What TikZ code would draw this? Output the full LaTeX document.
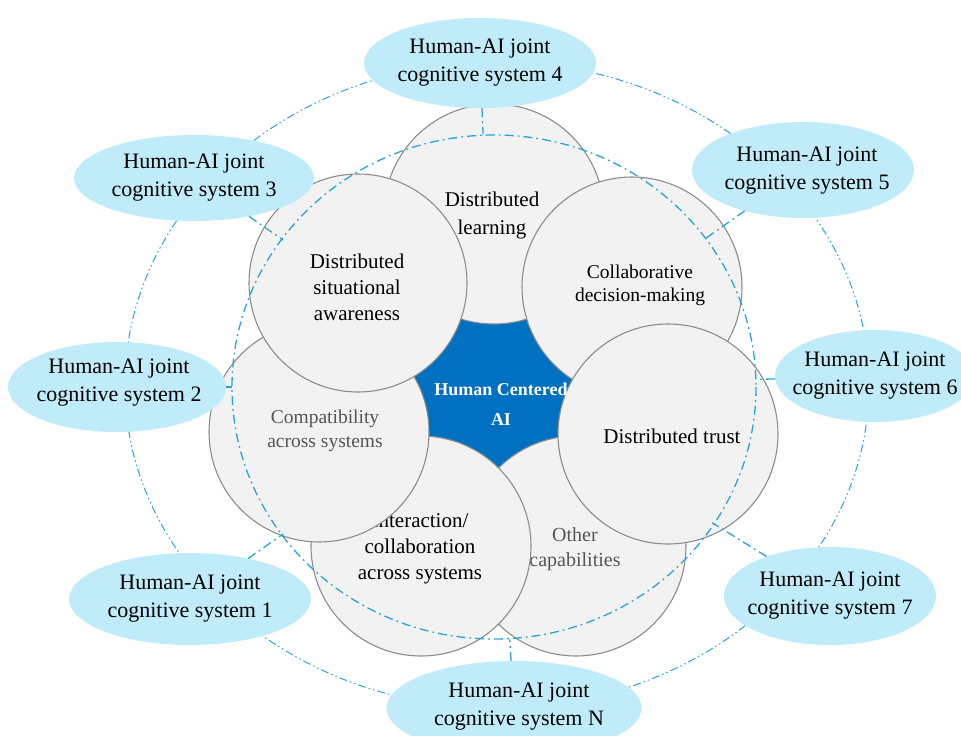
\documentclass[tikz,border=0pt]{standalone}
\usepackage{fontspec}
\setmainfont{Liberation Serif}
\usetikzlibrary{shapes.geometric,calc}
\definecolor{petalfill}{RGB}{242,242,242}
\definecolor{petaldraw}{RGB}{140,140,140}
\definecolor{hcblue}{RGB}{0,112,192}
\definecolor{sysfill}{RGB}{192,235,249}
\definecolor{dashcol}{RGB}{40,165,215}
\definecolor{graytext}{RGB}{85,85,85}
\begin{document}
\begin{tikzpicture}[x=1pt,y=-1pt,
  petal/.style={circle,fill=petalfill,draw=petaldraw,line width=1.1pt,inner sep=0pt,minimum size=#1},
  ptext/.style={align=center,inner sep=0pt,text=black},
  sys/.style={ellipse,fill=sysfill,draw=none,inner sep=0pt},
  systext/.style={align=center,inner sep=0pt,font=\fontsize{22pt}{28pt}\selectfont},
  innerline/.style={draw=dashcol,line width=1.3pt,dash pattern=on 9pt off 4pt on 1.8pt off 4pt},
  outerline/.style={draw=dashcol,line width=1pt,dash pattern=on 8pt off 3pt on 1.5pt off 3pt on 1.5pt off 3pt},
  conn/.style={innerline}]
\useasboundingbox (0,0) rectangle (961,736);
\clip (0,0) rectangle (961,736);
% outer dash-dot-dot ring
\draw[outerline] (497,385) ellipse[x radius=372, y radius=323];
% blue centre
\fill[hcblue] (495,392) circle[radius=110];
% petals (back to front)
\node[petal=220pt] (learn) at (494,214) {};
\node[ptext,font=\fontsize{21pt}{28pt}\selectfont] (learnT) at (492,215) {Distributed\\learning};
\node[petal=220pt] (other) at (576,546) {};
\node[ptext,text=graytext,font=\fontsize{20pt}{25pt}\selectfont] (otherT) at (575,549) {Other\\capabilities};
\node[petal=220pt] (inter) at (421,546) {};
\node[ptext,font=\fontsize{21pt}{26pt}\selectfont] (interT) at (420,549) {Interaction/\\collaboration\\across systems};
\node[petal=220pt] (compat) at (319,432) {};
\node[ptext,text=graytext,font=\fontsize{19.5pt}{24pt}\selectfont] (compatT) at (325,431) {Compatibility\\across systems};
\node[petal=218pt] (sa) at (358,283) {};
\node[ptext,font=\fontsize{21pt}{26pt}\selectfont] (saT) at (357,287) {Distributed\\situational\\awareness};
\node[petal=220pt] (collab) at (632,287) {};
\node[ptext,font=\fontsize{19.5pt}{23pt}\selectfont] (collabT) at (640,285) {Collaborative\\decision-making};
\node[petal=220pt] (trust) at (668,434) {};
\node[ptext,font=\fontsize{21pt}{26pt}\selectfont] (trustT) at (672,436) {Distributed trust};
% centre label
\node[ptext,text=white,font=\bfseries\fontsize{18pt}{30pt}\selectfont] (hcai) at (501,404) {Human Centered\\AI};
% inner dash-dot ring
\coordinate (c) at (494,387);
\draw[innerline] (c) ellipse[x radius=262, y radius=252];
% systems
\node[sys,minimum width=232pt,minimum height=90pt] (s4) at (480,63) {};
\node[systext] (s4t) at (s4) {Human-AI joint\\cognitive system 4};
\node[sys,minimum width=240pt,minimum height=86pt] (s3) at (194,178) {};
\node[systext] (s3t) at (s3) {Human-AI joint\\cognitive system 3};
\node[sys,minimum width=222pt,minimum height=96pt] (s5) at (803,170) {};
\node[systext] (s5t) at (807,171) {Human-AI joint\\cognitive system 5};
\node[sys,minimum width=218pt,minimum height=90pt] (s2) at (117,387) {};
\node[systext] (s2t) at (119,383) {Human-AI joint\\cognitive system 2};
\node[sys,minimum width=200pt,minimum height=92pt] (s6) at (875,376) {};
\node[systext] (s6t) at (875,376) {Human-AI joint\\cognitive system 6};
\node[sys,minimum width=242pt,minimum height=92pt] (s1) at (190,599) {};
\node[systext] (s1t) at (s1) {Human-AI joint\\cognitive system 1};
\node[sys,minimum width=212pt,minimum height=98pt] (s7) at (830,596) {};
\node[systext] (s7t) at (s7) {Human-AI joint\\cognitive system 7};
\node[sys,minimum width=255pt,minimum height=94pt] (sN) at (514,708) {};
\node[systext] (sNt) at (519,707) {Human-AI joint\\cognitive system N};
% connectors to inner ring
\foreach \s/\r in {s4/253,s3/257,s5/257,s2/262,s6/262,s1/257,s7/257,sN/253}{
  \draw[conn] (\s) -- ($(c)!\r pt!(\s)$);
}
\end{tikzpicture}
\end{document}
